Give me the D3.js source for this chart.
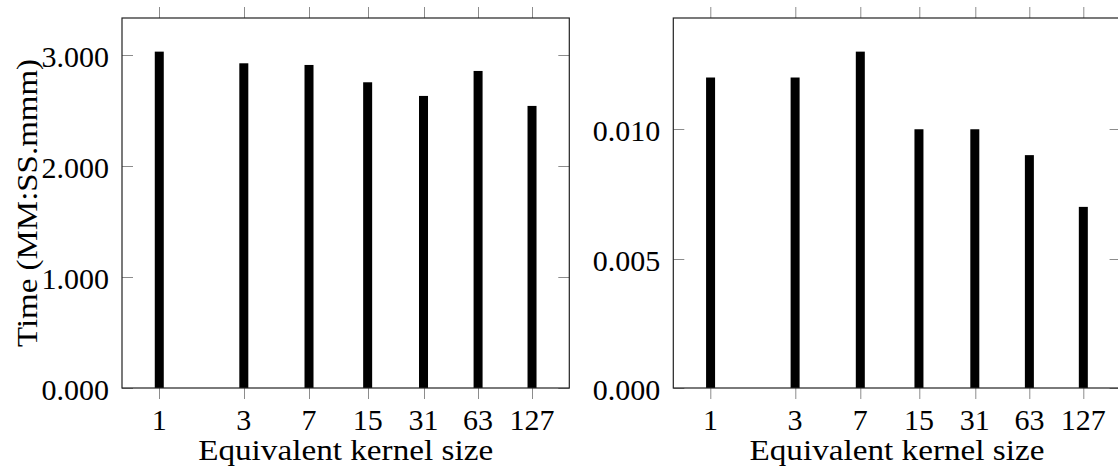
<!DOCTYPE html>
<html>
<head>
<meta charset="utf-8">
<script src="https://cdn.jsdelivr.net/npm/d3@7"></script>
<style>
  html, body { margin: 0; padding: 0; background: #fff; }
  svg { display: block; }
  text { font-family: "Liberation Serif", "Times New Roman", serif; fill: #000; }
</style>
</head>
<body>
<svg id="chart" width="1118" height="468"></svg>
<script>
// Equivalent kernel sizes along the x axis
const kernelSizes = [1, 3, 7, 15, 31, 63, 127];
const kernelLabels = ["1", "3", "7", "15", "31", "63", "127"];

// Run time per kernel size, left panel
const timeLeft = [3.030, 2.925, 2.910, 2.754, 2.631, 2.856, 2.541];
const leftTicks = [0, 1, 2, 3];

// Run time per kernel size, right panel
const timeRight = [0.012, 0.012, 0.013, 0.010, 0.010, 0.009, 0.007];
const rightTicks = [0, 0.005, 0.010];

const xTitle = "Equivalent kernel size";
const yTitle = "Time (MM:SS.mmm)";

const svg = d3.select("#chart");
const FONT = 30;
const TICK_COLOR = "#8c8c8c";
const FRAME_COLOR = "#222";

const panelW = 447.3, panelH = 370, panelTop = 18;

function panel(left, values, ticks, showYTitle) {
  const g = svg.append("g").attr("transform", `translate(${left},${panelTop})`);

  // log-scaled x with 10% padding on both ends (in log space)
  const lo = Math.log2(d3.min(kernelSizes)), hi = Math.log2(d3.max(kernelSizes));
  const pad = 0.1 * (hi - lo);
  const x = d3.scaleLog().base(2)
    .domain([Math.pow(2, lo - pad), Math.pow(2, hi + pad)])
    .range([0, panelW]);
  const y = d3.scaleLinear()
    .domain([0, d3.max(values) * 1.1])
    .range([panelH, 0]);

  // bars
  const barW = 9;
  g.selectAll("rect.bar").data(values).join("rect")
    .attr("class", "bar")
    .attr("x", (d, i) => x(kernelSizes[i]) - barW / 2)
    .attr("width", barW)
    .attr("y", d => y(d))
    .attr("height", d => y(0) - y(d))
    .attr("fill", "#000");

  // x ticks: outside, top and bottom
  const xt = g.append("g");
  kernelSizes.forEach(k => {
    const px = Math.round(x(k)) + 0.5;
    xt.append("line").attr("x1", px).attr("x2", px).attr("y1", -11).attr("y2", 0)
      .attr("stroke", TICK_COLOR).attr("stroke-width", 1);
    xt.append("line").attr("x1", px).attr("x2", px).attr("y1", panelH).attr("y2", panelH + 11)
      .attr("stroke", TICK_COLOR).attr("stroke-width", 1);
  });
  g.selectAll("text.xl").data(kernelLabels).join("text")
    .attr("class", "xl")
    .attr("x", (d, i) => x(kernelSizes[i]))
    .attr("y", panelH + 42)
    .attr("text-anchor", "middle")
    .attr("font-size", FONT)
    .text(d => d);

  // y ticks: inside, left and right
  const fmt = d3.format(".3f");
  ticks.forEach(t => {
    const py = Math.round(y(t)) + 0.5;
    g.append("line").attr("x1", 0).attr("x2", 11).attr("y1", py).attr("y2", py)
      .attr("stroke", TICK_COLOR).attr("stroke-width", 1);
    g.append("line").attr("x1", panelW - 11).attr("x2", panelW).attr("y1", py).attr("y2", py)
      .attr("stroke", TICK_COLOR).attr("stroke-width", 1);
    g.append("text")
      .attr("x", -13).attr("y", y(t) + 12)
      .attr("text-anchor", "end")
      .attr("font-size", FONT)
      .text(fmt(t));
  });

  // frame
  g.append("rect").attr("x", 0).attr("y", 0).attr("width", panelW).attr("height", panelH)
    .attr("fill", "none").attr("stroke", FRAME_COLOR).attr("stroke-width", 1.2);

  // x title
  g.append("text")
    .attr("x", panelW / 2).attr("y", panelH + 72)
    .attr("text-anchor", "middle")
    .attr("font-size", FONT)
    .attr("textLength", 295).attr("lengthAdjust", "spacingAndGlyphs")
    .text(xTitle);

  if (showYTitle) {
    g.append("text")
      .attr("transform", `translate(${37 - left},${panelH / 2}) rotate(-90)`)
      .attr("text-anchor", "middle")
      .attr("font-size", FONT)
      .attr("textLength", 288).attr("lengthAdjust", "spacingAndGlyphs")
      .text(yTitle);
  }
}

panel(122, timeLeft, leftTicks, true);
panel(673.3, timeRight, rightTicks, false);
</script>
</body>
</html>
